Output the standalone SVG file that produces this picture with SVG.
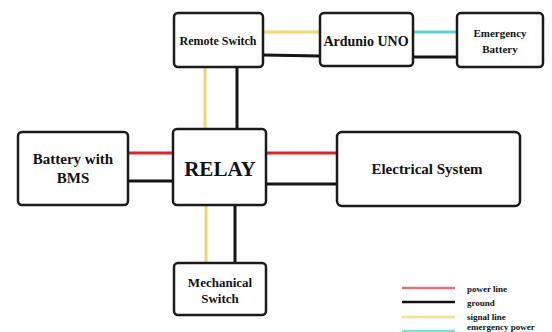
<svg xmlns="http://www.w3.org/2000/svg" width="552" height="332" viewBox="0 0 552 332">
<style>
.box{fill:#fff;stroke:#1a1a1a;stroke-width:2.5}
.t{font-family:"Liberation Serif",serif;font-weight:bold;fill:#111;text-anchor:middle}
.lg{font-family:"Liberation Serif",serif;font-weight:bold;fill:#111;font-size:9px}
.pw{stroke:#d9262e;stroke-width:3;fill:none}
.gd{stroke:#151515;stroke-width:3;fill:none}
.sg{stroke:#f3d66a;stroke-width:3;fill:none}
.em{stroke:#5fd3d8;stroke-width:3;fill:none}
</style>
<rect width="552" height="332" fill="#fff"/>
<g id="connectors">
<line class="sg" x1="263" y1="32" x2="320" y2="32"/>
<line class="gd" x1="263" y1="55" x2="320" y2="56"/>
<line class="em" x1="413" y1="32" x2="457" y2="32"/>
<line class="gd" x1="413" y1="57" x2="457" y2="57"/>
<line class="sg" x1="205" y1="67" x2="205" y2="129"/>
<line class="gd" x1="237" y1="67" x2="237" y2="129"/>
<line class="pw" x1="128" y1="153" x2="173" y2="153"/>
<line class="gd" x1="128" y1="181" x2="173" y2="181"/>
<line class="pw" x1="266" y1="153" x2="337" y2="153"/>
<line class="gd" x1="266" y1="184" x2="337" y2="184"/>
<line class="sg" x1="206" y1="205" x2="206" y2="263"/>
<line class="gd" x1="235" y1="205" x2="235" y2="263"/>
</g>
<g id="remote-switch"><rect class="box" x="174" y="13" width="89" height="54" rx="4"/><text class="t" x="218" y="45" font-size="12">Remote Switch</text></g>
<g id="arduino"><rect class="box" x="320" y="13" width="93" height="53" rx="4"/><text class="t" x="366" y="46" font-size="14">Ardunio UNO</text></g>
<g id="emergency-battery"><rect class="box" x="457" y="13" width="86" height="54" rx="4"/><text class="t" x="500" y="37" font-size="11">Emergency</text><text class="t" x="500" y="53" font-size="11">Battery</text></g>
<g id="battery-bms"><rect class="box" x="18" y="132" width="110" height="73" rx="4"/><text class="t" x="73" y="164" font-size="15">Battery with</text><text class="t" x="73" y="183" font-size="15">BMS</text></g>
<g id="relay"><rect class="box" x="173" y="129" width="93" height="76" rx="4"/><text class="t" x="220" y="176" font-size="21">RELAY</text></g>
<g id="electrical-system"><rect class="box" x="337" y="132" width="183" height="74" rx="5"/><text class="t" x="427" y="174" font-size="15">Electrical System</text></g>
<g id="mechanical-switch"><rect class="box" x="174" y="263" width="92" height="52" rx="4"/><text class="t" x="220" y="287" font-size="13">Mechanical</text><text class="t" x="220" y="303" font-size="13">Switch</text></g>
<g id="legend">
<line x1="402" y1="288" x2="455" y2="288" stroke="#e0707a" stroke-width="2.5"/>
<line x1="402" y1="302" x2="455" y2="302" stroke="#111" stroke-width="2.5"/>
<line x1="402" y1="317" x2="455" y2="317" stroke="#f3df8e" stroke-width="2.5"/>
<line x1="402" y1="331" x2="455" y2="331" stroke="#7fdcdf" stroke-width="2.5"/>
<text class="lg" x="467" y="292">power line</text>
<text class="lg" x="467" y="306">ground</text>
<text class="lg" x="467" y="320">signal line</text>
<text class="lg" x="467" y="330">emergency power</text>
</g>
</svg>
